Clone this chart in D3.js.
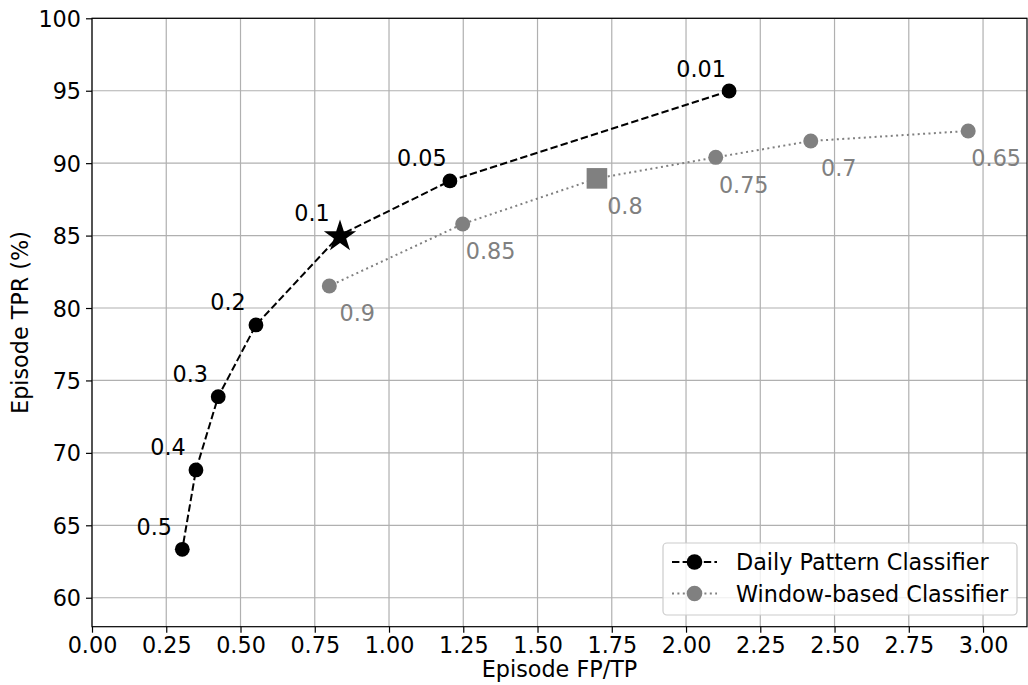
<!DOCTYPE html>
<html>
<head>
<meta charset="utf-8">
<script src="https://cdn.jsdelivr.net/npm/d3@7"></script>
<style>
  html, body { margin: 0; padding: 0; background: #fff; }
  svg { display: block; font-family: "DejaVu Sans", sans-serif; }
</style>
</head>
<body>
<svg id="chart" width="1028" height="685"></svg>
<script>
// ---- Data ----
const dailyLabels = ["0.01", "0.05", "0.1", "0.2", "0.3", "0.4", "0.5"];
const dailyX = [2.145, 1.205, 0.835, 0.552, 0.425, 0.350, 0.304];
const dailyY = [94.98, 88.77, 85.04, 78.83, 73.88, 68.82, 63.34];
const dailyHighlight = "0.1";   // drawn as a star

const windowLabels = ["0.65", "0.7", "0.75", "0.8", "0.85", "0.9"];
const windowX = [2.95, 2.42, 2.10, 1.70, 1.248, 0.799];
const windowY = [92.22, 91.53, 90.40, 88.95, 85.80, 81.52];
const windowHighlight = "0.8";  // drawn as a square

const xTicks = [0, 0.25, 0.5, 0.75, 1.0, 1.25, 1.5, 1.75, 2.0, 2.25, 2.5, 2.75, 3.0];
const yTicks = [60, 65, 70, 75, 80, 85, 90, 95, 100];
const seriesNames = ["Daily Pattern Classifier", "Window-based Classifier"];

// ---- Layout ----
const M = { left: 92, right: 1027, top: 18.3, bottom: 626.7 };
const FS = 22.3;
const svg = d3.select("#chart");

const x = d3.scaleLinear().domain([0, 3.148]).range([M.left, M.right]);
const y = d3.scaleLinear().domain([58, 100]).range([M.bottom, M.top]);

// grid
const grid = svg.append("g");
grid.selectAll("line.vx").data(xTicks).join("line")
  .attr("x1", d => x(d)).attr("x2", d => x(d))
  .attr("y1", M.top).attr("y2", M.bottom)
  .attr("stroke", "#b0b0b0").attr("stroke-width", 1.2);
grid.selectAll("line.hy").data(yTicks).join("line")
  .attr("y1", d => y(d)).attr("y2", d => y(d))
  .attr("x1", M.left).attr("x2", M.right)
  .attr("stroke", "#b0b0b0").attr("stroke-width", 1.2);

// axes
const xAxis = d3.axisBottom(x).tickValues(xTicks).tickFormat(d3.format(".2f"))
  .tickSize(6).tickPadding(4.5);
const gx = svg.append("g").attr("transform", `translate(0,${M.bottom})`).call(xAxis);
const yAxis = d3.axisLeft(y).tickValues(yTicks).tickFormat(d3.format("d"))
  .tickSize(6).tickPadding(5);
const gy = svg.append("g").attr("transform", `translate(${M.left},0)`).call(yAxis);
[gx, gy].forEach(g => {
  g.select(".domain").remove();
  g.selectAll(".tick line").attr("stroke", "#000").attr("stroke-width", 1.2);
  g.selectAll(".tick text").attr("fill", "#000")
    .style("font-size", FS + "px").style("font-family", "DejaVu Sans");
});
gy.selectAll(".tick text").attr("dy", "0.36em");

// frame
svg.append("rect").attr("x", M.left).attr("y", M.top)
  .attr("width", M.right - M.left).attr("height", M.bottom - M.top)
  .attr("fill", "none").attr("stroke", "#000").attr("stroke-width", 1.2);

// axis labels
svg.append("text").attr("x", (M.left + M.right) / 2).attr("y", 677)
  .attr("text-anchor", "middle").style("font-size", FS + "px")
  .text("Episode FP/TP");
svg.append("text")
  .attr("transform", `translate(28,${(M.top + M.bottom) / 2}) rotate(-90)`)
  .attr("text-anchor", "middle").style("font-size", FS + "px")
  .text("Episode TPR (%)");

// star path generator
function starPath(R, r) {
  const pts = [];
  for (let i = 0; i < 10; i++) {
    const a = -Math.PI / 2 + i * Math.PI / 5;
    const rr = i % 2 === 0 ? R : r;
    pts.push([rr * Math.cos(a), rr * Math.sin(a)]);
  }
  return "M" + pts.map(p => p.join(",")).join("L") + "Z";
}

const daily = dailyLabels.map((l, i) => ({ label: l, x: dailyX[i], y: dailyY[i] }));
const win = windowLabels.map((l, i) => ({ label: l, x: windowX[i], y: windowY[i] }));

const line = d3.line().x(d => x(d.x)).y(d => y(d.y));

// lines
svg.append("path").datum(win).attr("d", line)
  .attr("fill", "none").attr("stroke", "gray").attr("stroke-width", 2)
  .attr("stroke-dasharray", "2,3.4");
svg.append("path").datum(daily).attr("d", line)
  .attr("fill", "none").attr("stroke", "#000").attr("stroke-width", 2)
  .attr("stroke-dasharray", "7.4,3.2");

// markers – window
svg.selectAll("circle.win").data(win.filter(d => d.label !== windowHighlight)).join("circle")
  .attr("class", "win")
  .attr("cx", d => x(d.x)).attr("cy", d => y(d.y)).attr("r", 7.5).attr("fill", "gray");
svg.selectAll("rect.win").data(win.filter(d => d.label === windowHighlight)).join("rect")
  .attr("class", "win")
  .attr("x", d => x(d.x) - 10.3).attr("y", d => y(d.y) - 10.3)
  .attr("width", 20.6).attr("height", 20.6).attr("fill", "gray");

// markers – daily
svg.selectAll("circle.daily").data(daily.filter(d => d.label !== dailyHighlight)).join("circle")
  .attr("class", "daily")
  .attr("cx", d => x(d.x)).attr("cy", d => y(d.y)).attr("r", 7.4).attr("fill", "#000");
svg.selectAll("path.star").data(daily.filter(d => d.label === dailyHighlight)).join("path")
  .attr("class", "star")
  .attr("transform", d => `translate(${x(d.x)},${y(d.y) + 1.5})`)
  .attr("d", starPath(17, 6.5)).attr("fill", "#000");

// point labels
svg.selectAll("text.dl").data(daily).join("text")
  .attr("class", "dl")
  .attr("x", d => x(d.x) - 28).attr("y", d => y(d.y) - 14.5)
  .attr("text-anchor", "middle").style("font-size", FS + "px").attr("fill", "#000")
  .text(d => d.label);
svg.selectAll("text.wl").data(win).join("text")
  .attr("class", "wl")
  .attr("x", d => x(d.x) + 28).attr("y", d => y(d.y) + 35.5)
  .attr("text-anchor", "middle").style("font-size", FS + "px").attr("fill", "gray")
  .text(d => d.label);

// legend
const lg = svg.append("g");
lg.append("rect").attr("x", 663).attr("y", 543).attr("width", 354).attr("height", 72)
  .attr("rx", 4).attr("fill", "#fff").attr("fill-opacity", 0.8)
  .attr("stroke", "#cccccc").attr("stroke-width", 1.2);
const legItems = [
  { name: seriesNames[0], color: "#000", dash: "7.4,3.2" },
  { name: seriesNames[1], color: "gray", dash: "2,3.4" }
];
legItems.forEach((it, i) => {
  const cy = 562 + i * 31.5;
  lg.append("line").attr("x1", 672).attr("x2", 717).attr("y1", cy).attr("y2", cy)
    .attr("stroke", it.color).attr("stroke-width", 2).attr("stroke-dasharray", it.dash);
  lg.append("circle").attr("cx", 694.5).attr("cy", cy).attr("r", 7.8).attr("fill", it.color);
  lg.append("text").attr("x", 736).attr("y", cy).attr("dy", "0.36em")
    .style("font-size", FS + "px").attr("fill", "#000").text(it.name);
});
</script>
</body>
</html>
